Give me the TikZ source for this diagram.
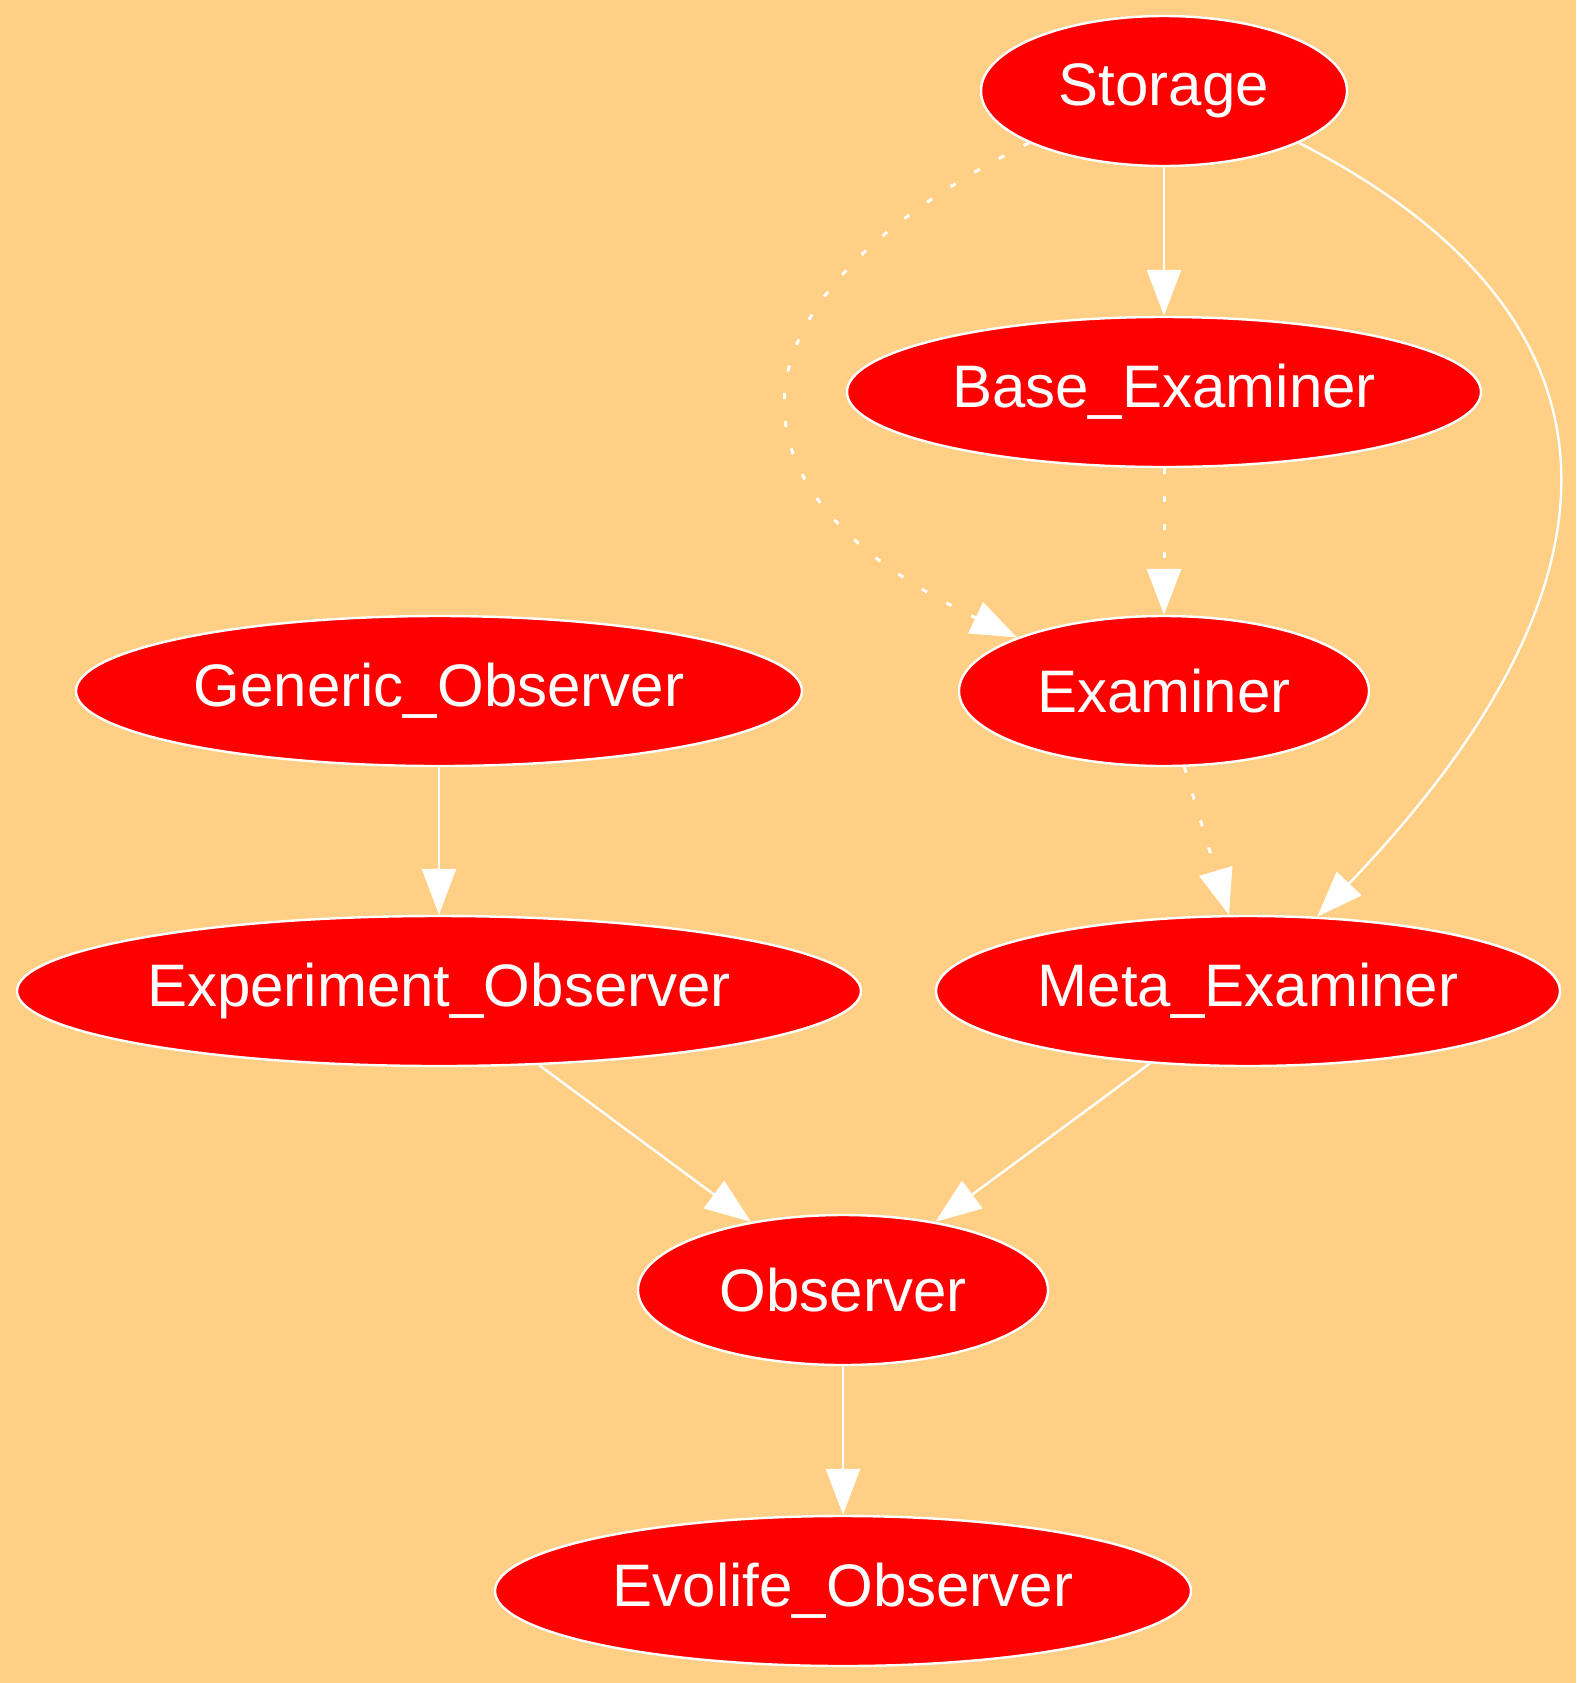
\documentclass[tikz,border=0pt]{standalone}
\usepackage{fontspec}
\setmainfont{Liberation Sans}
\usetikzlibrary{arrows.meta,shapes.geometric}
\definecolor{bgorange}{RGB}{254,207,132}
\definecolor{nodered}{RGB}{255,0,0}

\begin{document}
\begin{tikzpicture}[x=0.5pt,y=-0.5pt,
 font=\fontsize{30}{36}\selectfont,
 classnode/.style={ellipse,draw=white,line width=1.2pt,fill=nodered,text=white,
  inner sep=0pt,minimum height=75pt},
 link/.style={draw=white,line width=1.2pt,
  -{Triangle[length=23pt,width=17pt,fill=white,color=white]}},
 dotlink/.style={link,line width=1.5pt,dash pattern=on 3pt off 11pt}]
\fill[bgorange] (0,0) rectangle (1576,1683);
\useasboundingbox (0,0) rectangle (1576,1683);
\node[classnode,minimum width=183pt] (st) at (1164,91) {Storage};
\node[classnode,minimum width=317pt] (be) at (1164,392) {Base\_Examiner};
\node[classnode,minimum width=205pt] (ex) at (1164,691) {Examiner};
\node[classnode,minimum width=363pt] (go) at (439,691) {Generic\_Observer};
\node[classnode,minimum width=422pt] (eo) at (439,991) {Experiment\_Observer};
\node[classnode,minimum width=312pt] (me) at (1248,991) {Meta\_Examiner};
\node[classnode,minimum width=205pt] (ob) at (843,1290) {Observer};
\node[classnode,minimum width=348pt] (el) at (843,1591) {Evolife\_Observer};
\draw[link] (st) -- (be);
\draw[dotlink] (be) -- (ex);
\draw[dotlink] (st.201) .. controls (712,302) and (712,492) .. (ex.160);
\draw[dotlink] (ex.285) -- (me.104);
\draw[link] (st.339) .. controls (1640,318) and (1640,580) .. (me.47);
\draw[link] (go) -- (eo);
\draw[link] (eo) -- (ob);
\draw[link] (me) -- (ob);
\draw[link] (ob) -- (el);
\end{tikzpicture}
\end{document}
